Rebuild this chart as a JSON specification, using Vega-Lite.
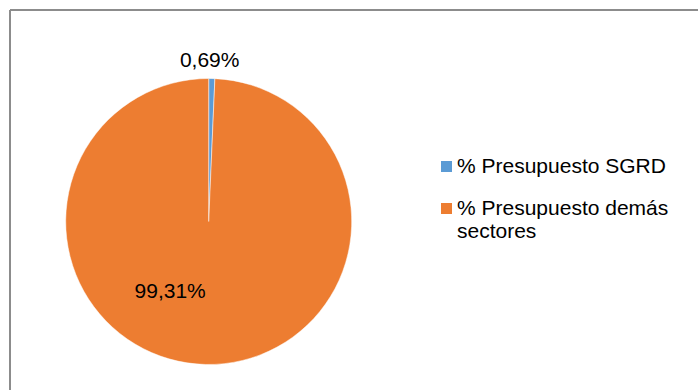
{
  "$schema": "https://vega.github.io/schema/vega-lite/v6.json",
  "width": 688,
  "height": 380,
  "autosize": {"type": "none"},
  "padding": {"left": 10, "top": 10, "right": 0, "bottom": 0},
  "background": "white",
  "view": {"stroke": "#8c8c8c", "strokeWidth": 2, "strokeDash": [688, 1068, 380, 0]},
  "config": {
    "view": {"stroke": "#8c8c8c", "strokeWidth": 2, "strokeDash": [688, 1068, 380, 0]},
    "style": {"cell": {"stroke": "#8c8c8c", "strokeWidth": 2, "strokeDash": [688, 1068, 380, 0]}},
    "locale": {"number": {"decimal": ",", "thousands": ".", "grouping": [3], "currency": ["", " €"]}}
  },
  "data": {
    "values": [
      {"categoria": "% Presupuesto SGRD", "valor": 0.0069},
      {"categoria": "% Presupuesto demás sectores", "valor": 0.9931}
    ]
  },
  "encoding": {
    "theta": {"field": "valor", "type": "quantitative", "stack": true}
  },
  "layer": [
    {
      "mark": {"type": "arc", "radius": 143, "xOffset": -145.3, "yOffset": 21.5, "stroke": "#ffffff", "strokeWidth": 0.5},
      "encoding": {
        "color": {
          "field": "categoria",
          "type": "nominal",
          "scale": {"domain": ["% Presupuesto SGRD", "% Presupuesto demás sectores"], "range": ["#5B9BD5", "#ED7D31"]},
          "legend": {
            "orient": "none",
            "legendX": 426,
            "legendY": 146,
            "title": null,
            "symbolType": "square",
            "symbolSize": 121,
            "symbolStrokeWidth": 0,
            "labelFont": "Liberation Sans",
            "labelFontSize": 21,
            "labelColor": "#000000",
            "labelLimit": 400,
            "labelOffset": 0,
            "labelBaseline": "middle",
            "rowPadding": 20,
            "labelExpr": "datum.label == '% Presupuesto demás sectores' ? ['% Presupuesto demás', 'sectores'] : datum.label"
          }
        }
      }
    },
    {
      "mark": {"type": "text", "radius": 160.3, "xOffset": -145.3, "yOffset": 21.5, "dx": -2.5, "font": "Liberation Sans", "fontSize": 21, "fill": "#000000", "align": "center", "baseline": "middle"},
      "encoding": {
        "detail": {"field": "categoria", "type": "nominal", "sort": ["% Presupuesto SGRD", "% Presupuesto demás sectores"]},
        "text": {"field": "valor", "type": "quantitative", "format": ".2%"},
        "opacity": {"condition": {"test": "datum.categoria === '% Presupuesto SGRD'", "value": 1}, "value": 0}
      }
    },
    {
      "mark": {"type": "text", "radius": 70.5, "xOffset": -145.3, "yOffset": 21.5, "dx": -37, "font": "Liberation Sans", "fontSize": 21, "fill": "#000000", "align": "center", "baseline": "middle"},
      "encoding": {
        "detail": {"field": "categoria", "type": "nominal", "sort": ["% Presupuesto SGRD", "% Presupuesto demás sectores"]},
        "text": {"field": "valor", "type": "quantitative", "format": ".2%"},
        "opacity": {"condition": {"test": "datum.categoria === '% Presupuesto demás sectores'", "value": 1}, "value": 0}
      }
    }
  ]
}
